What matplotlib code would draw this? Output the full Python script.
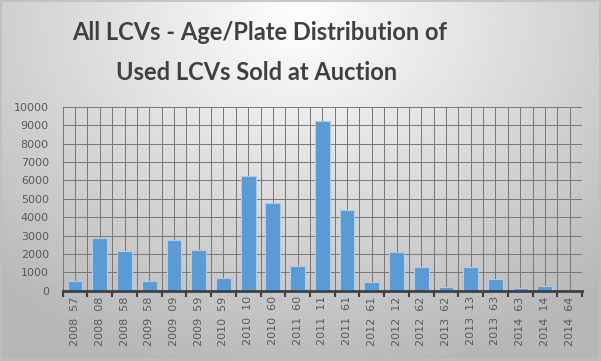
import numpy as np
import matplotlib.pyplot as plt
from matplotlib.ticker import MultipleLocator

# dados
categorias = ['2008  57', '2008  08', '2008  58', '2009  58', '2009  09', '2009  59',
              '2010  59', '2010  10', '2010  60', '2011  60', '2011  11', '2011  61',
              '2012  61', '2012  12', '2012  62', '2013  62', '2013  13', '2013  63',
              '2014  63', '2014  14', '2014  64']
vendidos = [550, 2850, 2180, 550, 2780, 2230,
            690, 6250, 4800, 1370, 9250, 4420,
            480, 2110, 1310, 220, 1310, 650,
            150, 270, 0]

fig = plt.figure(figsize=(6.01, 3.61), dpi=100)

# fundo com degradê radial
bg = fig.add_axes([0, 0, 1, 1], zorder=-10)
yy, xx = np.mgrid[0:361, 0:601]
d = np.sqrt(((xx - 300) / 420.0) ** 2 + ((yy - 20) / 330.0) ** 2)
g = np.clip(1.0 - 0.26 * d, 0.72, 1.0)
bg.imshow(np.dstack([g, g, g]), extent=[0, 1, 0, 1], aspect='auto', origin='upper')
bg.set_xlim(0, 1)
bg.set_ylim(0, 1)
bg.axis('off')
bg.add_patch(plt.Rectangle((0.001, 0.002), 0.997, 0.995, fill=False,
                           edgecolor='#bfbfbf', linewidth=1.2))

ax = fig.add_axes([62.7 / 601, 1 - 290.7 / 361, (582 - 62.7) / 601, (290.7 - 107) / 361])
ax.patch.set_alpha(0)

x = np.arange(len(categorias))
ax.bar(x, vendidos, width=0.6, color='#5b9bd5', edgecolor='#a9cbec', linewidth=0.8, zorder=3)

ax.set_xlim(-0.5, len(categorias) - 0.5)
ax.set_ylim(0, 10000)
ax.yaxis.set_major_locator(MultipleLocator(1000))

# grade: linhas verticais nas bordas e no centro de cada categoria
for xv in np.arange(-0.5, len(categorias), 0.5):
    ax.axvline(xv, color='#767676', linewidth=0.7, zorder=1)
for yv in range(1000, 10001, 1000):
    ax.axhline(yv, color='#767676', linewidth=0.7, zorder=1)

ax.set_xticks(x)
ax.set_xticklabels(categorias, rotation=90, fontsize=8, color='#595959')
ax.set_xticks(np.arange(-0.5, len(categorias), 1), minor=True)
ax.tick_params(axis='x', which='major', length=0, pad=4)
ax.tick_params(axis='x', which='minor', length=4, width=1.5, color='#404040', direction='out')
ax.tick_params(axis='y', length=0, labelsize=8, labelcolor='#595959', pad=10)

for s in ['top', 'right', 'left']:
    ax.spines[s].set_visible(False)
ax.spines['bottom'].set_color('#404040')
ax.spines['bottom'].set_linewidth(2)
ax.spines['bottom'].set_zorder(4)

fig.text(260 / 601, 1 - 33 / 361, 'All LCVs - Age/Plate Distribution of', ha='center', va='center',
         fontsize=17, fontweight='bold', family='Lato', color='#404040')
fig.text(257 / 601, 1 - 73 / 361, 'Used LCVs Sold at Auction', ha='center', va='center',
         fontsize=17, fontweight='bold', family='Lato', color='#404040')

fig.savefig('out.png', dpi=100)
